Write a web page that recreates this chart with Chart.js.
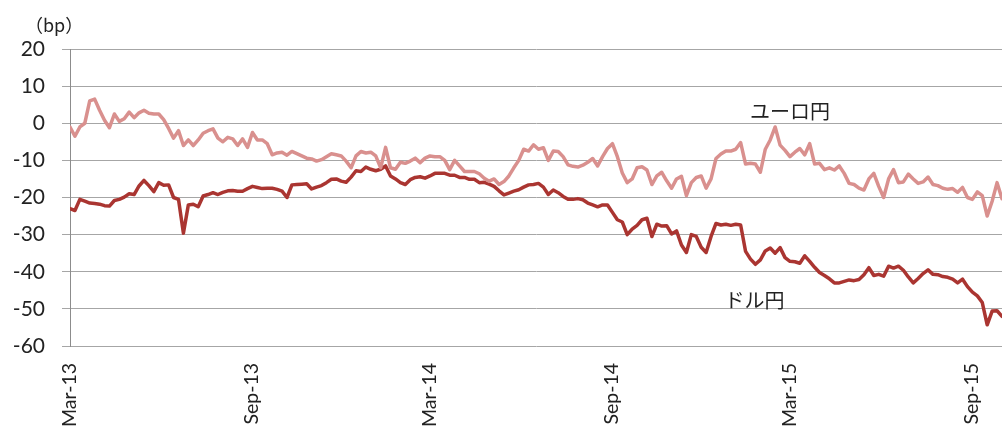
<!DOCTYPE html>
<html>
<head>
<meta charset="utf-8">
<script src="https://cdn.jsdelivr.net/npm/chart.js@4.4.1/dist/chart.umd.min.js"></script>
<style>
  html, body { margin: 0; padding: 0; background: #ffffff; }
  #wrap { width: 1002px; height: 427px; }
</style>
</head>
<body>
<div id="wrap"><canvas id="c" width="1002" height="427"></canvas></div>
<script>
// Sampling grid: days since 1 Mar 2013, one sample every 5 days
const sampleStep = 5;
const sampleCount = 190;
const sampleDays = Array.from({ length: sampleCount }, (_, k) => k * sampleStep);

// X-axis tick positions (days since 1 Mar 2013) and their labels
const tickDays = [0, 184, 365, 549, 730, 914];
const tickLabels = ['Mar-13', 'Sep-13', 'Mar-14', 'Sep-14', 'Mar-15', 'Sep-15'];

// Series names
const seriesNames = ['ユーロ円', 'ドル円'];

// ユーロ円 basis (bp)
const eurJpy = [
  -1, -3.5, -1, 0, 6, 6.5, 3.5, 0.8, -1.2, 2.5,
  0.5, 1.2, 3, 1.5, 2.8, 3.5, 2.7, 2.5, 2.5, 1,
  -1.4, -4, -2, -6, -4.5, -6, -4.5, -2.7, -2, -1.5,
  -4, -5, -3.8, -4.2, -6, -4.2, -6.5, -2.5, -4.5, -4.5,
  -5.5, -8.5, -8, -7.8, -8.6, -7.6, -8.2, -8.8, -9.4, -9.6,
  -10.2, -9.8, -9, -8.2, -8.5, -8.8, -10.2, -12, -8.8, -7.6,
  -8, -7.8, -8.8, -12, -6.5, -12, -12.4, -10.5, -10.8, -10.2,
  -9.4, -10.6, -9.4, -8.8, -9, -9, -10, -12.5, -10, -11.5,
  -13, -13, -13, -13.6, -14.8, -15.6, -15, -16.5, -15.7, -14.2,
  -12, -10, -7, -7.5, -5.8, -7, -6.6, -10, -7.5, -7.6,
  -9, -11.2, -11.6, -11.8, -11.3, -10.5, -9.5, -11.5, -9, -6.8,
  -5.5, -9, -13.4, -16, -15, -12, -11.7, -12.6, -16.5, -14.2,
  -13.2, -15.5, -17.5, -15, -14.3, -19.5, -16, -14.6, -14.2, -17.5,
  -15, -9.5, -8.3, -7.5, -7.5, -7, -5.2, -11, -10.8, -11,
  -13.2, -7, -4.5, -1, -5.9, -7.3, -9, -7.8, -6.8, -8.5,
  -5.5, -11, -10.8, -12.5, -12, -12.6, -11.5, -13.5, -16.2, -16.5,
  -17.5, -18, -15, -13.5, -17, -20, -15, -12.5, -16, -15.8,
  -13.7, -15, -16.2, -15.8, -14.5, -16.5, -16.8, -17.5, -17.8, -17.6,
  -18.6, -17.3, -20, -20.5, -18.5, -19.5, -25, -21, -16, -20.3
];

// ドル円 basis (bp)
const usdJpy = [
  -23, -23.5, -20.5, -21, -21.5, -21.6, -21.8, -22.2, -22.3, -20.8,
  -20.5, -19.9, -19, -19.2, -16.9, -15.4, -16.8, -18.4, -16, -16.7,
  -16.6, -20, -20.5, -29.6, -22, -21.8, -22.5, -19.6, -19.2, -18.7,
  -19.2, -18.6, -18.2, -18.1, -18.3, -18.3, -17.6, -17, -17.3, -17.6,
  -17.5, -17.5, -17.8, -18.3, -20, -16.6, -16.5, -16.4, -16.3, -17.7,
  -17.2, -16.8, -16, -15.1, -15, -15.6, -15.9, -14.5, -12.8, -13,
  -11.8, -12.4, -12.8, -12.4, -11.5, -14.2, -15, -16, -16.5, -15.2,
  -14.6, -14.4, -14.8, -14.2, -13.5, -13.5, -13.5, -14, -14, -14.6,
  -14.6, -15.1, -15.1, -16, -15.9, -16.4, -17, -18.2, -19.3, -18.8,
  -18.3, -17.9, -17.2, -16.6, -16.5, -16.2, -17.2, -19.2, -18, -18.7,
  -19.7, -20.5, -20.5, -20.3, -20.6, -21.5, -22, -22.5, -22, -22,
  -24, -26, -26.6, -30, -28.5, -27.5, -26, -25.6, -30.5, -27.2,
  -27.7, -27.6, -29.8, -29, -32.8, -34.8, -30, -30.5, -33.4, -34.8,
  -30.5, -27, -27.4, -27.2, -27.5, -27.2, -27.4, -34.5, -36.6, -38,
  -36.8, -34.4, -33.6, -35, -33.5, -36.2, -37.2, -37.3, -37.7, -35.7,
  -37.2, -38.8, -40.2, -41, -41.9, -43, -43, -42.6, -42.2, -42.4,
  -42.1, -40.8, -38.9, -41, -40.7, -41.2, -38.5, -39, -38.5, -39.6,
  -41.4, -43, -41.8, -40.5, -39.5, -40.7, -40.8, -41.3, -41.5, -42,
  -43, -42, -44, -45.5, -46.5, -48.3, -54.3, -50.6, -50.5, -52
];

const toPoints = (vals) => vals.map((v, i) => ({ x: sampleDays[i], y: v }));

// Unit label and in-plot series labels
const inlineLabels = {
  id: 'inlineLabels',
  afterDatasetsDraw(chart) {
    const { ctx, scales } = chart;
    ctx.save();
    ctx.fillStyle = '#222222';
    ctx.textBaseline = 'middle';
    ctx.font = '18px "Noto Sans CJK JP", "Lato", sans-serif';
    ctx.textAlign = 'left';
    ctx.fillText('（bp）', 25, 25);

    ctx.font = '20px "Noto Sans CJK JP", sans-serif';
    ctx.textAlign = 'center';
    ctx.fillText(seriesNames[0], scales.x.getPixelForValue(730), scales.y.getPixelForValue(3.2));
    ctx.fillText(seriesNames[1], scales.x.getPixelForValue(694), scales.y.getPixelForValue(-47.6));
    ctx.restore();
  }
};

new Chart(document.getElementById('c'), {
  type: 'line',
  data: {
    datasets: [
      {
        label: seriesNames[0],
        data: toPoints(eurJpy),
        borderColor: '#D9908E',
        borderWidth: 3.5,
        pointRadius: 0,
        tension: 0,
        borderJoinStyle: 'round',
        borderCapStyle: 'round'
      },
      {
        label: seriesNames[1],
        data: toPoints(usdJpy),
        borderColor: '#AA3531',
        borderWidth: 3.5,
        pointRadius: 0,
        tension: 0,
        borderJoinStyle: 'round',
        borderCapStyle: 'round'
      }
    ]
  },
  options: {
    responsive: false,
    animation: false,
    events: [],
    layout: { padding: { top: 49, right: 0, left: 0, bottom: 0 } },
    plugins: {
      legend: { display: false },
      tooltip: { enabled: false }
    },
    scales: {
      x: {
        type: 'linear',
        min: 0,
        max: 945,
        afterBuildTicks(scale) {
          scale.ticks = tickDays.map(v => ({ value: v }));
        },
        afterFit(scale) {
          scale.height = 81;
          scale.paddingLeft = 0;
          scale.paddingRight = 0;
        },
        ticks: {
          autoSkip: false,
          minRotation: 90,
          maxRotation: 90,
          padding: 9,
          color: '#222222',
          font: { family: 'Lato, "Liberation Sans", sans-serif', size: 19.5 },
          callback(value) {
            const i = tickDays.indexOf(value);
            return i >= 0 ? tickLabels[i] : '';
          }
        },
        grid: { display: false },
        border: { display: false }
      },
      y: {
        min: -60,
        max: 20,
        afterFit(scale) { scale.width = 70; },
        ticks: {
          stepSize: 10,
          padding: 17,
          color: '#222222',
          font: { family: 'Lato, "Liberation Sans", sans-serif', size: 21 }
        },
        grid: {
          color: '#A6A6A6',
          lineWidth: 1,
          tickLength: 8,
          drawTicks: true
        },
        border: { display: true, color: '#8C8C8C', width: 1 }
      }
    }
  },
  plugins: [inlineLabels]
});
</script>
</body>
</html>
